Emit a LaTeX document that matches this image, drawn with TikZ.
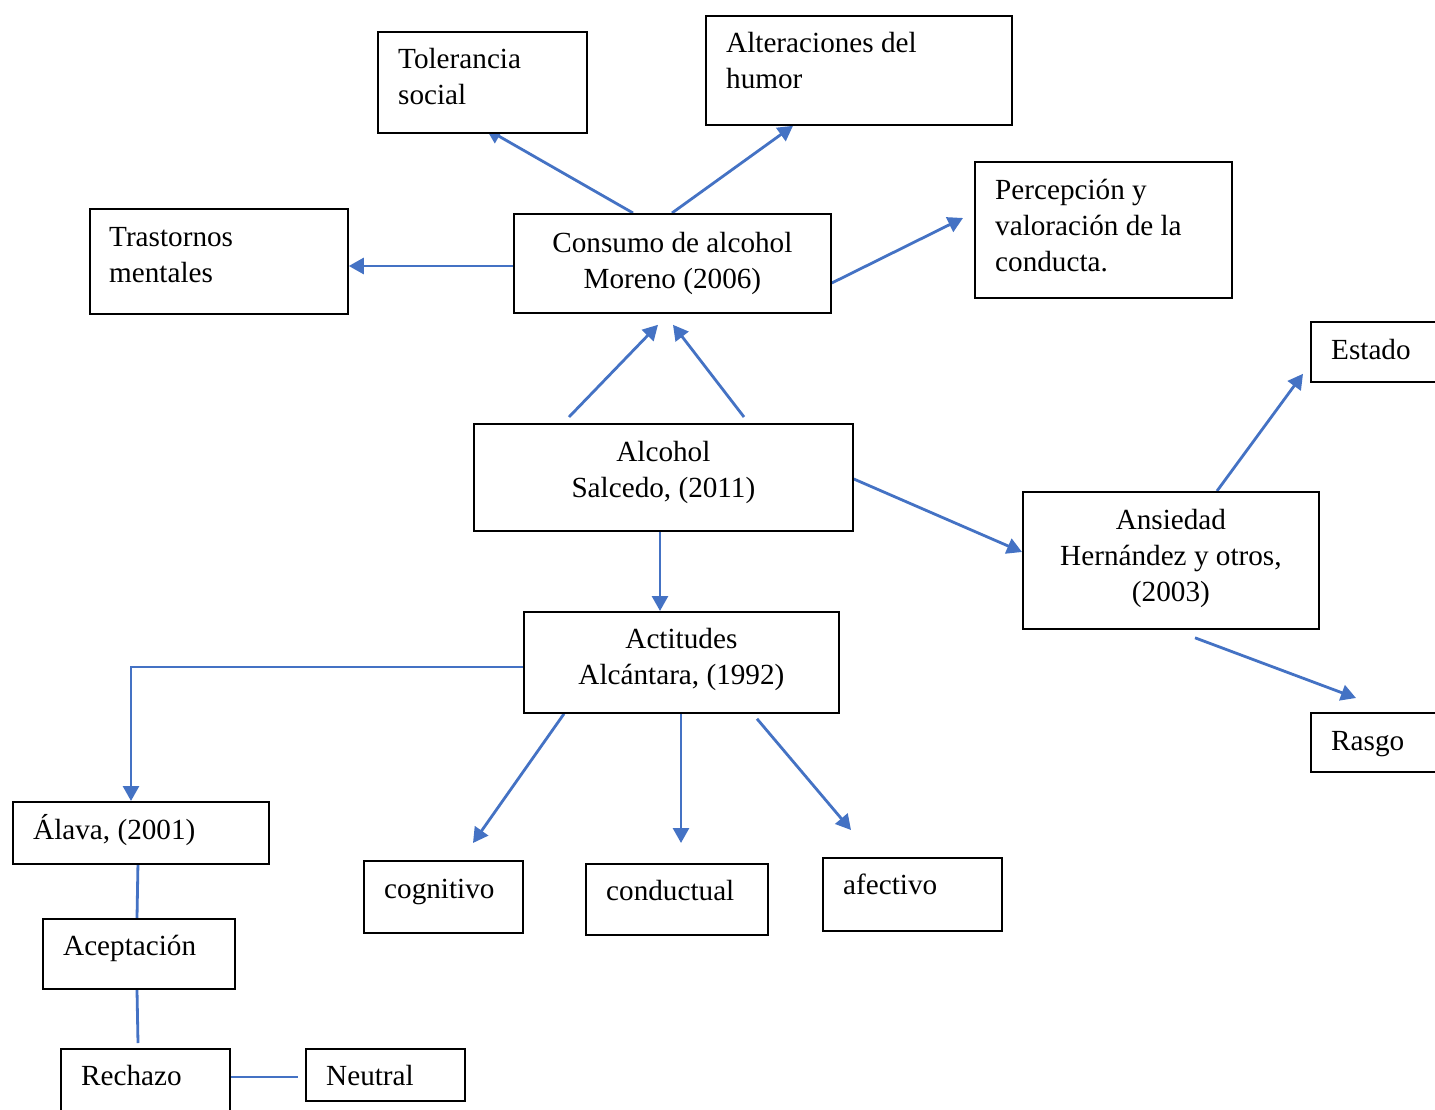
\documentclass[tikz,border=0pt]{standalone}
\usepackage{fontspec}
\setmainfont{Liberation Serif}
\usetikzlibrary{arrows.meta}
\definecolor{lnblue}{HTML}{4472C4}
\pgfdeclarelayer{bg}
\pgfdeclarelayer{paper}
\pgfsetlayers{paper,bg,main}
\newcommand\fl{\rule{0pt}{26pt}}
\begin{document}
\begin{tikzpicture}[x=1pt,y=-1pt,
 box/.style={draw=black, line width=1.8pt, fill=white, inner sep=0pt, anchor=north west},
 txt/.style={inner sep=0pt, font=\fontsize{29.2}{36}\selectfont},
 ltxt/.style={txt, anchor=north west, align=left},
 ctxt/.style={txt, anchor=north, align=center},
 arr/.style={draw=lnblue, line width=2.8pt, -{Triangle[length=15pt,width=16pt]}},
 ln/.style={draw=lnblue, line width=2.8pt}]
\clip (0,0) rectangle (1435,1110);
\begin{pgfonlayer}{paper}
\fill[white] (0,0) rectangle (1435,1110);
\end{pgfonlayer}

% boxes
\node[box, minimum width=209pt, minimum height=101pt] (tol) at (377,31) {};
\node[box, minimum width=306pt, minimum height=109pt] (alt) at (705,15) {};
\node[box, minimum width=258pt, minimum height=105pt] (tras) at (89,208) {};
\node[box, minimum width=317pt, minimum height=99pt] (cons) at (513,213) {};
\node[box, minimum width=257pt, minimum height=136pt] (perc) at (974,161) {};
\node[box, minimum width=140pt, minimum height=60pt] (est) at (1310,321) {};
\node[box, minimum width=379pt, minimum height=107pt] (alc) at (473,423) {};
\node[box, minimum width=296pt, minimum height=137pt] (ans) at (1022,491) {};
\node[box, minimum width=140pt, minimum height=59pt] (ras) at (1310,712) {};
\node[box, minimum width=315pt, minimum height=101pt] (act) at (523,611) {};
\node[box, minimum width=256pt, minimum height=62pt] (ala) at (12,801) {};
\node[box, minimum width=159pt, minimum height=72pt] (cog) at (363,860) {};
\node[box, minimum width=182pt, minimum height=71pt] (cond) at (585,863) {};
\node[box, minimum width=179pt, minimum height=73pt] (afe) at (822,857) {};
\node[box, minimum width=192pt, minimum height=70pt] (acep) at (42,918) {};
\node[box, minimum width=169pt, minimum height=80pt] (rech) at (60,1048) {};
\node[box, minimum width=159pt, minimum height=52pt] (neu) at (305,1048) {};

% texts
\node[ltxt] (tolt) at ([shift={(21,11.5)}]tol.north west) {\fl Tolerancia\\social};
\node[ltxt] (altt) at ([shift={(21,11.5)}]alt.north west) {\fl Alteraciones del\\humor};
\node[ltxt] (trast) at ([shift={(20,12)}]tras.north west) {\fl Trastornos\\mentales};
\node[ctxt] (const) at ([shift={(0,13)}]cons.north) {\fl Consumo de alcohol\\Moreno (2006)};
\node[ltxt] (perct) at ([shift={(21,12)}]perc.north west) {\fl Percepción y\\valoración de la\\conducta.};
\node[ltxt] (estt) at ([shift={(21,12)}]est.north west) {\fl Estado};
\node[ctxt] (alct) at ([shift={(0,12.5)}]alc.north) {\fl Alcohol\\Salcedo, (2011)};
\node[ctxt] (anst) at ([shift={(0,12.5)}]ans.north) {\fl Ansiedad\\Hernández y otros,\\(2003)};
\node[ltxt] (rast) at ([shift={(21,12)}]ras.north west) {\fl Rasgo};
\node[ctxt] (actt) at ([shift={(0,11.5)}]act.north) {\fl Actitudes\\Alcántara, (1992)};
\node[ltxt] (alat) at ([shift={(21,12)}]ala.north west) {\fl Álava, (2001)};
\node[ltxt] (cogt) at ([shift={(21,12)}]cog.north west) {\fl cognitivo};
\node[ltxt] (condt) at ([shift={(21,11.5)}]cond.north west) {\fl conductual};
\node[ltxt] (afet) at ([shift={(21,11.5)}]afe.north west) {\fl afectivo};
\node[ltxt] (acept) at ([shift={(21,11.5)}]acep.north west) {\fl Aceptación};
\node[ltxt] (recht) at ([shift={(21,11.5)}]rech.north west) {\fl Rechazo};
\node[ltxt] (neut) at ([shift={(21,11.5)}]neu.north west) {\fl Neutral};

% connectors
\begin{pgfonlayer}{bg}
\draw[arr] ([shift={(120,0)}]cons.north west) -- ([shift={(109,-5)}]tol.south west);
\draw[arr] ([shift={(159,0)}]cons.north west) -- ([shift={(88,0)}]alt.south west);
\draw[arr] ([shift={(0,53)}]cons.north west) -- ([shift={(0,58)}]tras.north east);
\draw[arr] ([shift={(0,70)}]cons.north east) -- ([shift={(-11,57)}]perc.north west);
\draw[arr] ([shift={(96,-6)}]alc.north west) -- ([shift={(145,11)}]cons.south west);
\draw[arr] ([shift={(271,-6)}]alc.north west) -- ([shift={(160,11)}]cons.south west);
\draw[arr] ([shift={(0,56)}]alc.north east) -- ([shift={(0,61)}]ans.north west);
\draw[arr] ([shift={(187,0)}]alc.south west) -- ([shift={(137,0)}]act.north west);
\draw[arr] ([shift={(195,0)}]ans.north west) -- ([shift={(-7,-9)}]est.south west);
\draw[arr] ([shift={(173,8)}]ans.south west) -- ([shift={(46,-14)}]ras.north west);
\draw[arr] ([shift={(0,56)}]act.north west) -| ([shift={(119,0)}]ala.north west);
\draw[arr] ([shift={(41,0)}]act.south west) -- ([shift={(110,-17)}]cog.north west);
\draw[arr] ([shift={(158,0)}]act.south west) -- ([shift={(96,-20)}]cond.north west);
\draw[arr] ([shift={(234,5)}]act.south west) -- ([shift={(29,-27)}]afe.north west);
\draw[ln] ([shift={(126,-3)}]ala.south west) -- ([shift={(95,0)}]acep.north west);
\draw[ln] ([shift={(95,0)}]acep.south west) -- ([shift={(78,-5)}]rech.north west);
\draw[ln] ([shift={(0,29)}]rech.north east) -- ([shift={(-7,29)}]neu.north west);
\end{pgfonlayer}
\end{tikzpicture}
\end{document}
